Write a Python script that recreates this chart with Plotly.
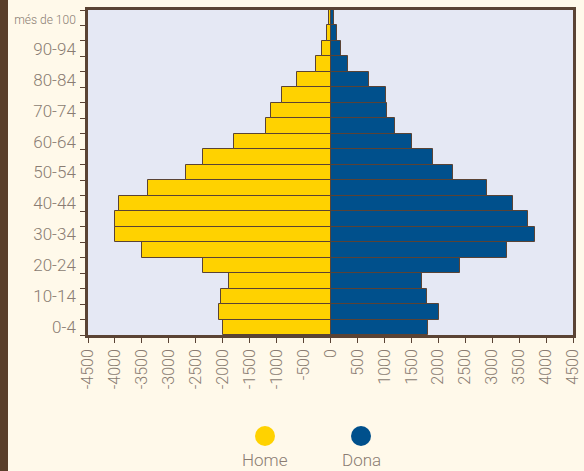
import plotly.graph_objects as go

age_groups = ["0-4", "5-9", "10-14", "15-19", "20-24", "25-29", "30-34", "35-39",
              "40-44", "45-49", "50-54", "55-59", "60-64", "65-69", "70-74", "75-79",
              "80-84", "85-89", "90-94", "95-99", "més de 100"]
home = [1995, 2070, 2030, 1880, 2365, 3500, 4005, 3990, 3925, 3395, 2680, 2370,
        1790, 1200, 1105, 900, 630, 270, 160, 70, 30]
dona = [1810, 2010, 1790, 1690, 2395, 3270, 3790, 3670, 3380, 2900, 2280, 1895,
        1520, 1205, 1045, 1030, 715, 325, 190, 115, 60]
x_ticks = list(range(-4500, 4501, 500))
x_labels = [str(v) for v in x_ticks]
legend_names = ["Home", "Dona"]
colors = ["#FFD200", "#00508C"]

FONT = "Roboto, Liberation Sans, sans-serif"
TXT = "#8a7c72"
BROWN = "#5a4334"

ypos = list(range(len(age_groups)))
fig = go.Figure()
fig.add_trace(go.Bar(y=ypos, x=[-v for v in home], orientation="h", width=1,
                     name=legend_names[0], marker=dict(color=colors[0], line=dict(color=BROWN, width=1)),
                     showlegend=False))
fig.add_trace(go.Bar(y=ypos, x=dona, orientation="h", width=1,
                     name=legend_names[1], marker=dict(color=colors[1], line=dict(color=BROWN, width=1)),
                     showlegend=False))

ytickvals = ypos[::2]
yticktext = []
for i in ytickvals:
    lab = age_groups[i]
    if lab == "més de 100":
        lab = "<span style='font-size:12px'>més de 100</span>"
    yticktext.append(lab)

fig.update_layout(
    width=584, height=471,
    margin=dict(l=88, r=11, t=10, b=136),
    paper_bgcolor="#FFF9EA", plot_bgcolor="#E5E8F4",
    barmode="overlay", bargap=0,
    font=dict(family=FONT, color=TXT, size=16, weight=300),
    xaxis=dict(range=[-4500, 4500], tickmode="array", tickvals=x_ticks, ticktext=x_labels,
               tickangle=-90, ticks="outside", ticklen=5, tickwidth=1, tickcolor=BROWN,
               showline=True, linecolor=BROWN, linewidth=2.5, mirror=True, automargin=False,
               showgrid=False, zeroline=True, zerolinecolor=BROWN, zerolinewidth=1.5,
               tickfont=dict(size=16, color=TXT, family=FONT, weight=300)),
    yaxis=dict(range=[-0.5, 20.5], tickmode="array", tickvals=ytickvals, ticktext=yticktext,
               ticks="", showline=True, linecolor=BROWN, linewidth=2.5, mirror=True, automargin=False,
               showgrid=False, zeroline=False, ticklabelstandoff=6,
               minor=dict(tickmode="linear", tick0=-0.5, dtick=1, ticks="outside",
                          ticklen=5, tickwidth=1, tickcolor=BROWN, showgrid=False),
               tickfont=dict(size=17, color=TXT, family=FONT, weight=300)),
)

W, H = 485, 325
def px(x): return (x - 88) / W
def py(y): return (335 - y) / H

shapes = [dict(type="rect", xref="paper", yref="paper", x0=px(0), x1=px(8), y0=py(471), y1=py(0),
               fillcolor="#5a3f2b", line=dict(width=0), layer="above")]
for cx, col, name in [(265, colors[0], legend_names[0]), (361, colors[1], legend_names[1])]:
    shapes.append(dict(type="circle", xref="paper", yref="paper", xsizemode="pixel", ysizemode="pixel",
                       xanchor=px(cx), yanchor=py(436), x0=-10, x1=10, y0=-10, y1=10,
                       fillcolor=col, line=dict(width=0)))
    fig.add_annotation(x=px(cx), y=py(460), xref="paper", yref="paper", text=name, showarrow=False,
                       font=dict(size=17, color=TXT, family=FONT, weight=300),
                       xanchor="center", yanchor="middle")
fig.update_layout(shapes=shapes)

fig.write_html("out.html", config={"displayModeBar": False},
               post_script="document.body.style.margin='0';document.body.style.overflow='hidden';")
